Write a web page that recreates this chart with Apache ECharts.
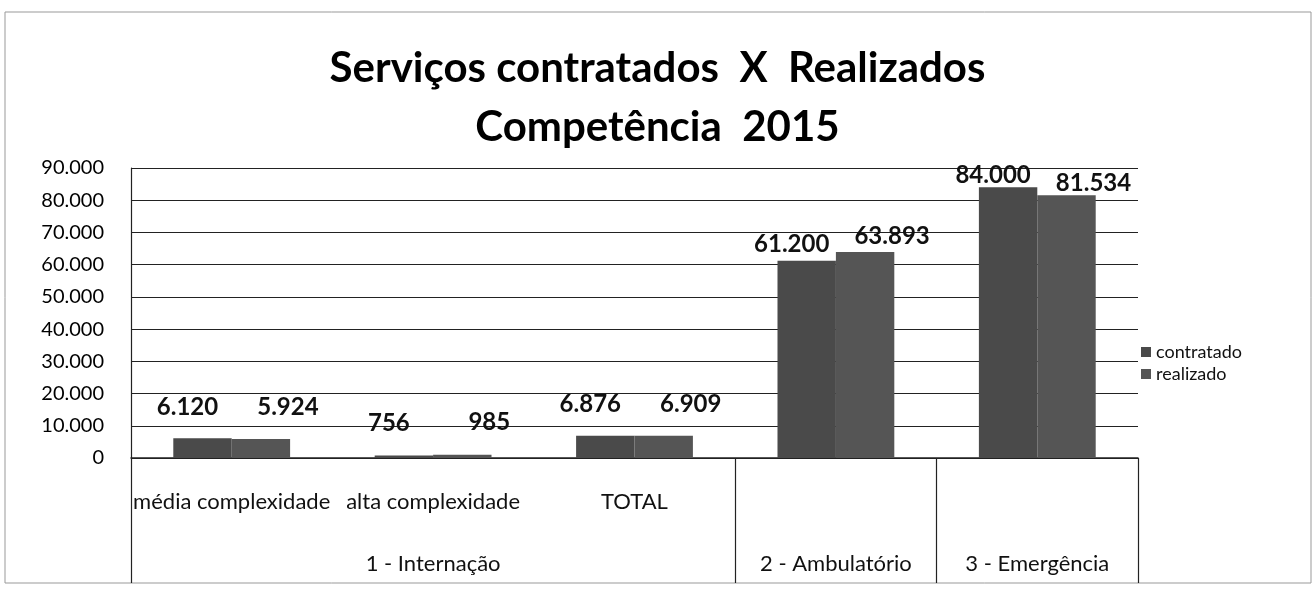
<!DOCTYPE html>
<html>
<head>
<meta charset="utf-8">
<script src="https://cdn.jsdelivr.net/npm/echarts@6/dist/echarts.min.js"></script>
<style>
html,body{margin:0;padding:0;background:#fff;}
#c{width:1315px;height:601px;}
</style>
</head>
<body>
<div id="c"></div>
<script>
const categories = ['média complexidade', 'alta complexidade', 'TOTAL', '', ''];
const groupLabels = ['', '1 - Internação', '', '2 - Ambulatório', '3 - Emergência'];
const contratado = [6120, 756, 6876, 61200, 84000];
const realizado = [5924, 985, 6909, 63893, 81534];
const seriesNames = ['contratado', 'realizado'];
const titleLines = ['Serviços contratados  X  Realizados', 'Competência  2015'];

const FONT = 'Lato';
function fmt(v) { return String(v).replace(/\B(?=(\d{3})+(?!\d))/g, '.'); }
// the reference's labels sit higher above short bars than above tall ones
function labelDist(v) { return Math.max(0, 21 - v * 0.00027); }
function withLabels(arr) { return arr.map(v => ({ value: v, label: { distance: labelDist(v) } })); }

const labelBase = { show: true, position: 'top', fontSize: 24, fontWeight: 'bold', color: '#111', fontFamily: FONT, formatter: p => fmt(p.value) };

const chart = echarts.init(document.getElementById('c'));
chart.setOption({
  animation: false,
  backgroundColor: '#fff',
  textStyle: { fontFamily: FONT },
  graphic: [
    { type: 'rect', shape: { x: 5, y: 12, width: 1306, height: 571 }, style: { fill: 'none', stroke: '#999', lineWidth: 1 }, z: -1 },
    { type: 'text', left: 'center', top: 47, style: { text: titleLines[0], font: 'bold 42px ' + FONT, fill: '#000' } },
    { type: 'text', left: 'center', top: 106, style: { text: titleLines[1], font: 'bold 42px ' + FONT, fill: '#000' } }
  ],
  legend: {
    orient: 'vertical',
    left: 1136,
    top: 338,
    itemWidth: 10,
    itemHeight: 10,
    itemGap: 4,
    icon: 'rect',
    textStyle: { fontSize: 18, color: '#111', fontFamily: FONT },
    data: seriesNames
  },
  grid: { left: 131, right: 177, top: 168, bottom: 143 },
  xAxis: [
    {
      type: 'category',
      data: categories,
      axisLine: { show: true, lineStyle: { color: '#222', width: 1.5 } },
      axisTick: { show: false },
      axisLabel: { interval: 0, margin: 33, fontSize: 22, color: '#111', fontFamily: FONT, hideOverlap: false }
    },
    {
      type: 'category',
      data: groupLabels,
      position: 'bottom',
      axisLine: { show: false },
      axisTick: {
        show: true,
        length: 125,
        interval: function (i) { return i === 0 || i === 3 || i === 4 || i === 5; },
        lineStyle: { color: '#222', width: 1.2 }
      },
      axisLabel: { interval: 0, margin: 95, fontSize: 22, color: '#111', fontFamily: FONT }
    }
  ],
  yAxis: {
    type: 'value',
    min: 0,
    max: 90000,
    interval: 10000,
    axisLine: { show: true, lineStyle: { color: '#222', width: 1.2 } },
    axisTick: { show: false },
    splitLine: { lineStyle: { color: '#222', width: 1.2 } },
    axisLabel: { margin: 27, fontSize: 20, color: '#000', fontFamily: FONT, formatter: fmt }
  },
  series: [
    {
      name: seriesNames[0], type: 'bar', data: withLabels(contratado), xAxisIndex: 0,
      barGap: '0%', barCategoryGap: '42%',
      itemStyle: { color: '#4a4a4a' },
      label: Object.assign({}, labelBase, { offset: [-15, 0] })
    },
    {
      name: seriesNames[1], type: 'bar', data: withLabels(realizado), xAxisIndex: 0,
      itemStyle: { color: '#555555' },
      label: Object.assign({}, labelBase, { offset: [27, 0] })
    }
  ]
});
</script>
</body>
</html>
